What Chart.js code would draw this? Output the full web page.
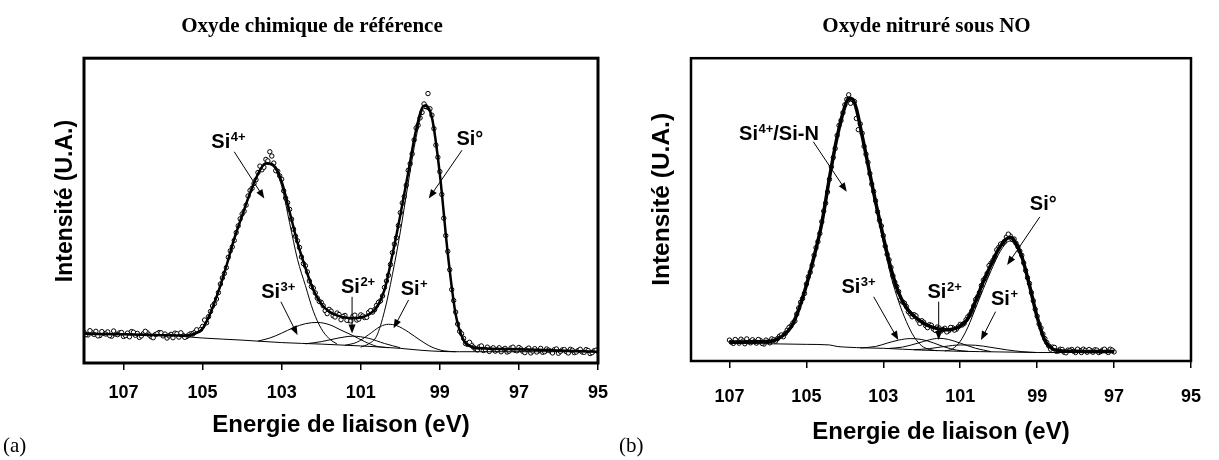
<!DOCTYPE html>
<html lang="fr">
<head>
<meta charset="utf-8">
<title>Si 2p - oxyde chimique / oxyde nitruré</title>
<script src="https://cdn.jsdelivr.net/npm/chart.js@4.4.0/dist/chart.umd.min.js"></script>
<style>
    html, body { margin: 0; padding: 0; background: #ffffff; }
    #wrap { position: relative; width: 1219px; height: 460px; overflow: hidden; }
    #wrap canvas { position: absolute; top: 0; }
    #chartA { left: 0; }
    #chartB { left: 610px; }
    .panel-tag { position: absolute; top: 433px; font: 21px "Liberation Serif", "Times New Roman", serif; color: #000; }
</style>
</head>
<body>
<div id="wrap">
    <canvas id="chartA" width="620" height="460" style="width:620px;height:460px"></canvas>
    <canvas id="chartB" width="609" height="460" style="width:609px;height:460px"></canvas>
    <div class="panel-tag" style="left:3px">(a)</div>
    <div class="panel-tag" style="left:619px">(b)</div>
</div>
<script>
// ---- shared axis ----
const xTicks = [107, 105, 103, 101, 99, 97, 95];

// ---- (a) Oxyde chimique de référence : mesures ----
const aPointE = [
    108.0, 107.9, 107.8, 107.7, 107.6, 107.5, 107.4, 107.3, 107.2, 107.1,
    107.0, 106.9, 106.8, 106.7, 106.6, 106.5, 106.4, 106.3, 106.2, 106.1,
    106.0, 105.9, 105.8, 105.7, 105.6, 105.5, 105.4, 105.3, 105.2, 105.1,
    105.0, 104.9, 104.8, 104.7, 104.6, 104.5, 104.4, 104.3, 104.2, 104.1,
    104.0, 103.9, 103.8, 103.7, 103.6, 103.5, 103.4, 103.3, 103.2, 103.1,
    103.0, 102.9, 102.8, 102.7, 102.6, 102.5, 102.4, 102.3, 102.2, 102.1,
    102.0, 101.9, 101.8, 101.7, 101.6, 101.5, 101.4, 101.3, 101.2, 101.1,
    101.0, 100.9, 100.8, 100.7, 100.6, 100.5, 100.4, 100.3, 100.2, 100.1,
    100.0, 99.9, 99.8, 99.7, 99.6, 99.5, 99.4, 99.3, 99.2, 99.1,
    99.0, 98.9, 98.8, 98.7, 98.6, 98.5, 98.4, 98.3, 98.2, 98.1,
    98.0, 97.9, 97.8, 97.7, 97.6, 97.5, 97.4, 97.3, 97.2, 97.1,
    97.0, 96.9, 96.8, 96.7, 96.6, 96.5, 96.4, 96.3, 96.2, 96.1,
    96.0, 95.9, 95.8, 95.7, 95.6, 95.5, 95.4, 95.3, 95.2, 95.1,
    95.0
];
const aPointI = [
    10.1, 9.2, 9.9, 10.4, 9.0, 9.7, 10.2, 8.8, 9.5, 9.9,
    8.7, 9.8, 10.3, 9.1, 8.4, 9.6, 9.9, 8.6, 9.3, 10.0,
    8.9, 8.2, 9.4, 9.8, 8.5, 9.1, 8.7, 9.6, 10.1, 10.6,
    12.0, 13.2, 16.9, 19.5, 23.1, 27.9, 31.3, 36.8, 40.2, 45.0,
    48.9, 51.8, 56.6, 58.9, 62.5, 63.4, 66.8, 69.3, 65.6, 62.9,
    60.3, 54.1, 50.4, 43.9, 40.1, 34.8, 31.9, 26.9, 24.6, 21.3,
    19.9, 17.2, 17.6, 15.5, 16.4, 14.2, 15.6, 13.9, 15.3, 14.1,
    15.8, 14.9, 16.6, 16.7, 18.9, 20.4, 24.8, 28.8, 36.2, 41.1,
    49.3, 54.6, 63.2, 68.6, 77.1, 80.4, 85.0, 88.4, 81.3, 71.5,
    62.8, 47.5, 36.6, 24.1, 16.7, 10.4, 8.1, 6.1, 5.9, 4.6,
    5.3, 4.1, 5.2, 4.6, 3.9, 5.0, 4.4, 3.6, 4.9, 4.2,
    5.1, 3.8, 4.5, 3.3, 4.7, 4.0, 3.5, 4.6, 3.9, 4.4,
    3.2, 4.3, 3.7, 4.5, 3.4, 4.1, 3.6, 4.4, 3.1, 4.0,
    3.8
];
// second pass of the acquisition (interleaved energies)
const aPoint2E = [
    107.95, 107.85, 107.75, 107.65, 107.55, 107.45, 107.35, 107.25, 107.15, 107.05,
    106.95, 106.85, 106.75, 106.65, 106.55, 106.45, 106.35, 106.25, 106.15, 106.05,
    105.95, 105.85, 105.75, 105.65, 105.55, 105.45, 105.35, 105.25, 105.15, 105.05,
    104.95, 104.85, 104.75, 104.65, 104.55, 104.45, 104.35, 104.25, 104.15, 104.05,
    103.95, 103.85, 103.75, 103.65, 103.55, 103.45, 103.35, 103.25, 103.15, 103.05,
    102.95, 102.85, 102.75, 102.65, 102.55, 102.45, 102.35, 102.25, 102.15, 102.05,
    101.95, 101.85, 101.75, 101.65, 101.55, 101.45, 101.35, 101.25, 101.15, 101.05,
    100.95, 100.85, 100.75, 100.65, 100.55, 100.45, 100.35, 100.25, 100.15, 100.05,
    99.95, 99.85, 99.75, 99.65, 99.55, 99.45, 99.35, 99.25, 99.15, 99.05,
    98.95, 98.85, 98.75, 98.65, 98.55, 98.45, 98.35, 98.25, 98.15, 98.05,
    97.95, 97.85, 97.75, 97.65, 97.55, 97.45, 97.35, 97.25, 97.15, 97.05,
    96.95, 96.85, 96.75, 96.65, 96.55, 96.45, 96.35, 96.25, 96.15, 96.05,
    95.95, 95.85, 95.75, 95.65, 95.55, 95.45, 95.35, 95.25, 95.15, 95.05
];
const aPoint2I = [
    9.3, 10.6, 9.4, 8.9, 10.3, 9.5, 9.0, 10.5, 9.3, 10.0,
    9.0, 8.6, 10.1, 9.7, 8.9, 10.4, 9.2, 8.3, 9.6, 9.9,
    9.5, 8.9, 8.3, 9.6, 9.9, 8.4, 9.2, 9.5, 10.9, 11.0,
    14.1, 15.2, 18.7, 21.0, 25.9, 29.4, 34.7, 38.1, 42.8, 47.3,
    49.8, 54.8, 57.3, 60.1, 64.6, 64.2, 66.3, 67.9, 63.1, 61.4,
    56.5, 52.6, 47.2, 41.6, 37.9, 32.6, 29.9, 25.1, 23.0, 20.2,
    18.8, 16.2, 17.0, 15.1, 15.9, 15.3, 14.0, 13.8, 15.7, 14.4,
    15.4, 15.0, 17.2, 17.5, 19.9, 22.0, 26.9, 32.3, 39.0, 45.1,
    52.5, 58.3, 65.4, 73.2, 78.0, 82.2, 84.1, 83.4, 76.9, 67.5,
    55.3, 41.8, 30.6, 20.5, 12.8, 9.6, 6.4, 6.8, 5.2, 4.3,
    5.6, 4.4, 3.8, 5.0, 4.3, 3.7, 4.8, 3.9, 5.2, 4.0,
    4.6, 3.4, 4.9, 3.9, 3.6, 4.8, 3.7, 4.2, 3.3, 4.6,
    3.8, 4.4, 3.3, 4.2, 3.6, 4.5, 3.5, 4.1, 3.4, 4.2
];

// ---- (a) décomposition ----
const aFitE = [108, 107, 106, 105.4, 105.2, 105.0, 104.8, 104.6, 104.4, 104.2, 104.0, 103.8, 103.6, 103.4, 103.2, 103.0,
    102.8, 102.6, 102.4, 102.2, 102.0, 101.8, 101.6, 101.4, 101.2, 101.0, 100.8, 100.6, 100.4, 100.2, 100.0,
    99.8, 99.6, 99.4, 99.2, 99.0, 98.8, 98.6, 98.4, 98.2, 98.0, 97, 96, 95];
const aFitI = [9.6, 9.4, 9.1, 9.0, 9.6, 11.3, 16.5, 23.5, 31.8, 40.8, 48.4, 55.8, 62.0, 65.5, 64.8, 59.5,
    49.6, 39.5, 31.2, 24.0, 19.4, 16.9, 15.6, 14.9, 14.7, 14.9, 15.9, 18.2, 24.0, 35.5, 48.5,
    62.5, 76.5, 84.4, 80.5, 62.0, 36.0, 16.0, 7.5, 5.4, 4.9, 4.5, 4.1, 3.7];

const aBgE = [105.6, 105.0, 104.0, 103.0, 102.0, 101.0, 100.0, 99.5, 99.0, 98.5, 95.0];
const aBgI = [8.8, 8.2, 7.5, 6.7, 6.2, 5.6, 4.8, 4.2, 3.8, 3.7, 3.7];

const aSi4E = [105.4, 105.0, 104.6, 104.2, 103.8, 103.6, 103.4, 103.2, 103.0, 102.8, 102.6, 102.4, 102.2, 102.0, 101.8, 101.6];
const aSi4I = [9.0, 11.2, 23.2, 40.3, 55.3, 61.6, 65.2, 64.3, 58.0, 46.0, 34.0, 25.4, 17.0, 11.3, 8.0, 6.2];

const aSi3E = [103.6, 103.3, 103.0, 102.7, 102.4, 102.1, 101.8, 101.5, 101.2, 100.9, 100.6, 100.3];
const aSi3I = [7.2, 8.2, 9.8, 11.6, 12.9, 13.3, 12.6, 10.8, 9.0, 7.0, 5.5, 5.0];

const aSi2E = [102.4, 102.0, 101.6, 101.2, 100.8, 100.4, 100.0];
const aSi2I = [6.3, 7.0, 8.1, 8.8, 8.1, 6.4, 5.0];

const aSi1E = [101.4, 101.1, 100.8, 100.5, 100.3, 100.1, 99.8, 99.5, 99.2, 98.9, 98.6];
const aSi1I = [5.8, 6.8, 9.3, 12.0, 12.7, 12.3, 10.2, 7.5, 5.2, 4.0, 3.7];

const aSi0E = [101.0, 100.8, 100.6, 100.4, 100.2, 100.0, 99.8, 99.6, 99.4, 99.2, 99.0, 98.8, 98.6, 98.4, 98.2, 98.0];
const aSi0I = [5.2, 6.3, 8.8, 17.0, 29.0, 43.0, 59.0, 74.0, 83.5, 80.3, 61.8, 35.8, 15.8, 7.3, 5.0, 4.5];

// ---- (b) Oxyde nitruré sous NO : mesures ----
const bPointE = [
    107.0, 106.9, 106.8, 106.7, 106.6, 106.5, 106.4, 106.3, 106.2, 106.1,
    106.0, 105.9, 105.8, 105.7, 105.6, 105.5, 105.4, 105.3, 105.2, 105.1,
    105.0, 104.9, 104.8, 104.7, 104.6, 104.5, 104.4, 104.3, 104.2, 104.1,
    104.0, 103.9, 103.8, 103.7, 103.6, 103.5, 103.4, 103.3, 103.2, 103.1,
    103.0, 102.9, 102.8, 102.7, 102.6, 102.5, 102.4, 102.3, 102.2, 102.1,
    102.0, 101.9, 101.8, 101.7, 101.6, 101.5, 101.4, 101.3, 101.2, 101.1,
    101.0, 100.9, 100.8, 100.7, 100.6, 100.5, 100.4, 100.3, 100.2, 100.1,
    100.0, 99.9, 99.8, 99.7, 99.6, 99.5, 99.4, 99.3, 99.2, 99.1,
    99.0, 98.9, 98.8, 98.7, 98.6, 98.5, 98.4, 98.3, 98.2, 98.1,
    98.0, 97.9, 97.8, 97.7, 97.6, 97.5, 97.4, 97.3, 97.2, 97.1,
    97.0
];
const bPointI = [
    6.9, 5.8, 6.6, 7.2, 5.7, 6.4, 7.0, 5.9, 6.8, 5.6,
    6.5, 7.3, 6.6, 8.2, 8.0, 10.2, 11.6, 13.2, 17.5, 20.6,
    25.4, 29.3, 34.9, 39.4, 46.0, 52.1, 60.0, 67.2, 74.5, 79.4,
    84.6, 87.9, 86.0, 80.1, 78.3, 70.9, 65.6, 58.4, 52.9, 46.5,
    41.4, 35.2, 30.9, 26.0, 22.9, 19.5, 18.0, 15.6, 15.3, 13.5,
    13.3, 11.7, 12.0, 10.6, 11.2, 9.9, 10.8, 10.0, 11.0, 10.5,
    12.1, 12.4, 14.6, 16.5, 20.3, 22.6, 26.7, 28.9, 32.3, 34.4,
    37.5, 38.8, 40.9, 41.3, 40.3, 37.7, 34.9, 29.9, 25.6, 19.9,
    14.8, 10.9, 7.4, 5.0, 4.6, 3.2, 3.9, 2.9, 3.6, 3.8,
    2.8, 3.5, 3.9, 2.9, 3.4, 3.7, 2.8, 3.6, 3.3, 3.9,
    3.0
];
const bPoint2E = [
    106.95, 106.85, 106.75, 106.65, 106.55, 106.45, 106.35, 106.25, 106.15, 106.05,
    105.95, 105.85, 105.75, 105.65, 105.55, 105.45, 105.35, 105.25, 105.15, 105.05,
    104.95, 104.85, 104.75, 104.65, 104.55, 104.45, 104.35, 104.25, 104.15, 104.05,
    103.95, 103.85, 103.75, 103.65, 103.55, 103.45, 103.35, 103.25, 103.15, 103.05,
    102.95, 102.85, 102.75, 102.65, 102.55, 102.45, 102.35, 102.25, 102.15, 102.05,
    101.95, 101.85, 101.75, 101.65, 101.55, 101.45, 101.35, 101.25, 101.15, 101.05,
    100.95, 100.85, 100.75, 100.65, 100.55, 100.45, 100.35, 100.25, 100.15, 100.05,
    99.95, 99.85, 99.75, 99.65, 99.55, 99.45, 99.35, 99.25, 99.15, 99.05,
    98.95, 98.85, 98.75, 98.65, 98.55, 98.45, 98.35, 98.25, 98.15, 98.05,
    97.95, 97.85, 97.75, 97.65, 97.55, 97.45, 97.35, 97.25, 97.15, 97.05
];
const bPoint2I = [
    6.2, 7.1, 5.9, 6.6, 7.3, 6.0, 6.4, 7.1, 5.8, 6.9,
    6.0, 7.0, 7.4, 8.6, 9.1, 11.1, 12.6, 15.5, 19.4, 22.3,
    27.8, 31.6, 37.4, 42.1, 49.5, 55.8, 64.1, 70.2, 77.8, 82.0,
    86.4, 85.1, 85.7, 76.4, 75.2, 68.3, 61.9, 56.0, 49.3, 44.6,
    37.9, 33.4, 28.1, 24.6, 20.2, 19.1, 16.3, 14.6, 14.9, 12.4,
    12.8, 11.0, 11.8, 10.1, 10.9, 10.4, 9.6, 11.1, 10.2, 11.3,
    11.9, 13.6, 15.3, 18.2, 21.1, 24.9, 27.4, 31.5, 33.2, 36.7,
    38.6, 39.5, 41.9, 40.2, 38.9, 36.3, 32.4, 27.5, 22.6, 17.1,
    12.2, 8.9, 6.1, 3.9, 4.5, 3.3, 3.8, 2.7, 3.5, 3.2,
    3.9, 2.8, 3.5, 3.8, 2.9, 3.6, 3.1, 3.9, 2.8, 3.6
];

// ---- (b) décomposition ----
const bFitE = [107.0, 106.0, 105.8, 105.6, 105.4, 105.2, 105.0, 104.8, 104.6, 104.4, 104.2, 104.0, 103.9, 103.8, 103.7,
    103.6, 103.4, 103.2, 103.0, 102.8, 102.6, 102.4, 102.2, 102.0, 101.8, 101.6, 101.4, 101.2, 101.0, 100.8,
    100.6, 100.4, 100.2, 100.0, 99.8, 99.7, 99.6, 99.4, 99.2, 99.0, 98.8, 98.6, 98.4, 98.0, 97.0];
const bFitI = [6.3, 6.4, 7.0, 8.5, 11.2, 17.0, 25.0, 34.5, 45.4, 60.5, 74.0, 84.0, 86.8, 86.5, 83.3,
    77.5, 65.0, 52.5, 41.0, 30.5, 22.5, 17.6, 14.8, 12.9, 11.5, 10.7, 10.3, 10.5, 11.5, 14.0,
    19.8, 26.2, 31.8, 37.0, 40.3, 40.8, 39.8, 34.5, 25.0, 14.5, 6.8, 4.0, 3.4, 3.2, 3.1];

const bBgE = [107.0, 106.0, 105.0, 104.4, 104.2, 104.0, 103.4, 103.0, 102.5, 102.0, 101.5, 101.0, 100.5, 100.0, 99.5, 99.0, 97.0];
const bBgI = [5.8, 5.7, 5.5, 5.3, 4.8, 4.6, 4.3, 4.2, 3.9, 3.6, 3.4, 3.2, 3.1, 3.0, 2.9, 2.8, 2.8];

const bSi4E = [106.0, 105.6, 105.2, 104.8, 104.4, 104.0, 103.8, 103.6, 103.4, 103.2, 103.0, 102.8, 102.6, 102.4, 102.2, 102.0, 101.8, 101.6];
const bSi4I = [5.9, 8.3, 16.8, 34.3, 60.3, 83.8, 86.2, 77.0, 64.2, 51.2, 39.2, 28.0, 19.6, 13.0, 8.0, 5.0, 3.8, 3.4];

const bSi3E = [103.6, 103.2, 102.9, 102.6, 102.3, 102.0, 101.7, 101.4, 101.1, 100.8];
const bSi3I = [4.3, 4.8, 5.9, 6.9, 7.4, 7.1, 6.0, 4.6, 3.6, 3.2];

const bSi2E = [102.9, 102.5, 102.1, 101.8, 101.55, 101.3, 101.0, 100.6, 100.2];
const bSi2I = [4.1, 4.6, 5.9, 7.0, 7.5, 7.1, 5.9, 4.2, 3.1];

const bSi1E = [102.2, 101.8, 101.4, 101.0, 100.6, 100.2, 99.8, 99.4, 99.0];
const bSi1I = [3.7, 4.1, 4.8, 5.3, 5.2, 4.5, 3.7, 3.1, 2.8];

const bSi0E = [101.4, 101.2, 101.0, 100.8, 100.6, 100.4, 100.2, 100.0, 99.8, 99.7, 99.6, 99.4, 99.2, 99.0, 98.8, 98.6, 98.4, 98.0];
const bSi0I = [3.3, 4.0, 6.5, 11.2, 17.5, 23.8, 29.8, 35.3, 39.0, 39.6, 38.8, 33.6, 24.8, 14.6, 7.2, 4.1, 3.2, 2.9];

// ---- annotations (position du texte + flèche, en eV / intensité) ----
const aNotes = [
    { text: 'Si', sup: '4+', rest: '', at: [104.78, 70.5], from: [104.20, 69.3], to: [103.44, 54.0] },
    { text: 'Si°', sup: '', rest: '', at: [98.58, 71.5], from: [98.44, 69.8], to: [99.28, 54.0] },
    { text: 'Si', sup: '3+', rest: '', at: [103.52, 21.3], from: [103.02, 20.1], to: [102.60, 9.2] },
    { text: 'Si', sup: '2+', rest: '', at: [101.50, 23.0], from: [101.22, 21.7], to: [101.22, 9.7] },
    { text: 'Si', sup: '+', rest: '', at: [99.99, 22.3], from: [99.79, 20.7], to: [100.17, 11.4] }
];
const bNotes = [
    { text: 'Si', sup: '4+', rest: '/Si-N', at: [106.75, 72.9], from: [104.82, 72.4], to: [103.95, 55.9] },
    { text: 'Si°', sup: '', rest: '', at: [99.19, 49.8], from: [98.93, 47.6], to: [99.78, 31.7] },
    { text: 'Si', sup: '3+', rest: '', at: [104.09, 22.4], from: [103.25, 21.2], to: [102.61, 6.9] },
    { text: 'Si', sup: '2+', rest: '', at: [101.85, 20.8], from: [101.56, 19.6], to: [101.56, 6.9] },
    { text: 'Si', sup: '+', rest: '', at: [100.20, 18.5], from: [100.08, 16.3], to: [100.46, 6.9] }
];

const SANS = '"Liberation Sans", Arial, Helvetica, sans-serif';
const SERIF = '"Liberation Serif", "Times New Roman", serif';

document.addEventListener('DOMContentLoaded', () => {
    initSpectrumChart('chartA', {
        title: 'Oxyde chimique de référence',
        points: [aPointE.concat(aPoint2E), aPointI.concat(aPoint2I)],
        fit: [aFitE, aFitI],
        parts: [[aBgE, aBgI], [aSi4E, aSi4I], [aSi3E, aSi3I], [aSi2E, aSi2I], [aSi1E, aSi1I], [aSi0E, aSi0I]],
        notes: aNotes,
        pad: { left: 24, right: 20 },
        yWidth: 60, yTitlePad: 28, yTitleSize: 23,
        xHeight: 97, tickPad: 12, xTitlePad: 20,
        frame: 3, fitWidth: 2.5
    });
    initSpectrumChart('chartB', {
        title: 'Oxyde nitruré sous NO',
        points: [bPointE.concat(bPoint2E), bPointI.concat(bPoint2I)],
        fit: [bFitE, bFitI],
        parts: [[bBgE, bBgI], [bSi4E, bSi4I], [bSi3E, bSi3I], [bSi2E, bSi2I], [bSi1E, bSi1I], [bSi0E, bSi0I]],
        notes: bNotes,
        pad: { left: 38, right: 14 },
        yWidth: 43, yTitlePad: 0, yTitleSize: 24.5,
        xHeight: 99, tickPad: 18, xTitlePad: 13,
        frame: 2.5, fitWidth: 3.5
    });
});

function toXY(xs, ys) {
    return xs.map((x, i) => ({ x: x, y: ys[i] }));
}

function drawArrow(ctx, x1, y1, x2, y2) {
    const ang = Math.atan2(y2 - y1, x2 - x1);
    const len = 9, half = 3.5;
    ctx.beginPath();
    ctx.moveTo(x1, y1);
    ctx.lineTo(x2 - Math.cos(ang) * len * 0.8, y2 - Math.sin(ang) * len * 0.8);
    ctx.lineWidth = 1;
    ctx.stroke();
    ctx.beginPath();
    ctx.moveTo(x2, y2);
    ctx.lineTo(x2 - Math.cos(ang) * len - Math.sin(ang) * half, y2 - Math.sin(ang) * len + Math.cos(ang) * half);
    ctx.lineTo(x2 - Math.cos(ang) * len + Math.sin(ang) * half, y2 - Math.sin(ang) * len - Math.cos(ang) * half);
    ctx.closePath();
    ctx.fill();
}

/**
 * Frame + peak labels with arrows, positioned through the chart scales
 */
const peakLabels = {
    id: 'peakLabels',
    afterDatasetsDraw(chart, args, opts) {
        const { ctx, chartArea: area, scales: { x, y } } = chart;
        ctx.save();
        ctx.strokeStyle = '#000';
        ctx.fillStyle = '#000';
        ctx.lineWidth = opts.frame;
        ctx.strokeRect(area.left, area.top, area.right - area.left, area.bottom - area.top);

        ctx.textBaseline = 'alphabetic';
        ctx.textAlign = 'left';
        (opts.notes || []).forEach(n => {
            const px = x.getPixelForValue(n.at[0]);
            const py = y.getPixelForValue(n.at[1]);
            ctx.font = 'bold 20px ' + SANS;
            ctx.fillText(n.text, px, py);
            let cx = px + ctx.measureText(n.text).width;
            if (n.sup) {
                ctx.font = 'bold 13px ' + SANS;
                ctx.fillText(n.sup, cx + 0.5, py - 7);
                cx += ctx.measureText(n.sup).width + 0.5;
            }
            if (n.rest) {
                ctx.font = 'bold 20px ' + SANS;
                ctx.fillText(n.rest, cx, py);
            }
            drawArrow(ctx,
                x.getPixelForValue(n.from[0]), y.getPixelForValue(n.from[1]),
                x.getPixelForValue(n.to[0]), y.getPixelForValue(n.to[1]));
        });
        ctx.restore();
    }
};

function initSpectrumChart(canvasId, cfg) {
    const ctx = document.getElementById(canvasId);
    if (!ctx) return;

    const datasets = [{
        label: 'mesure',
        data: toXY(cfg.points[0], cfg.points[1]),
        showLine: false,
        pointStyle: 'circle',
        pointRadius: 2.2,
        pointBorderWidth: 1,
        pointBorderColor: '#000',
        pointBackgroundColor: '#fff',
        order: 5
    }, {
        label: 'enveloppe',
        data: toXY(cfg.fit[0], cfg.fit[1]),
        showLine: true,
        borderColor: '#000',
        borderWidth: cfg.fitWidth,
        pointRadius: 0,
        cubicInterpolationMode: 'monotone',
        order: 1
    }];

    // thin component curves (background first)
    cfg.parts.forEach((p, i) => {
        datasets.push({
            label: 'comp' + i,
            data: toXY(p[0], p[1]),
            showLine: true,
            borderColor: '#000',
            borderWidth: 1,
            pointRadius: 0,
            cubicInterpolationMode: 'monotone',
            order: 2
        });
    });

    new Chart(ctx, {
        type: 'scatter',
        data: { datasets: datasets },
        plugins: [peakLabels],
        options: {
            responsive: false,
            animation: false,
            events: [],
            layout: { padding: { left: cfg.pad.left, right: cfg.pad.right, top: 0, bottom: 0 } },
            plugins: {
                legend: { display: false },
                tooltip: { enabled: false },
                title: {
                    display: true,
                    text: cfg.title,
                    color: '#000',
                    font: { family: SERIF, size: 21, weight: 'bold' },
                    padding: { top: 14, bottom: 19 }
                },
                peakLabels: { frame: cfg.frame, notes: cfg.notes }
            },
            scales: {
                x: {
                    type: 'linear',
                    position: 'bottom',
                    reverse: true,
                    min: 95,
                    max: 108,
                    afterBuildTicks: (axis) => { axis.ticks = xTicks.map(v => ({ value: v })); },
                    afterFit: (axis) => { axis.height = cfg.xHeight; },
                    ticks: {
                        color: '#000',
                        padding: cfg.tickPad,
                        maxRotation: 0,
                        font: { family: SANS, size: 18, weight: 'bold' }
                    },
                    grid: { display: true, drawOnChartArea: false, drawTicks: true, tickLength: 7, color: '#000', lineWidth: 1.5 },
                    border: { display: false },
                    title: {
                        display: true,
                        text: 'Energie de liaison (eV)',
                        color: '#000',
                        font: { family: SANS, size: 24, weight: 'bold' },
                        padding: { top: 0, bottom: cfg.xTitlePad }
                    }
                },
                y: {
                    type: 'linear',
                    min: 0,
                    max: 100,
                    afterFit: (axis) => { axis.width = cfg.yWidth; },
                    ticks: { display: false },
                    grid: { display: false },
                    border: { display: false },
                    title: {
                        display: true,
                        text: '   Intensité (U.A.)',
                        color: '#000',
                        font: { family: SANS, size: cfg.yTitleSize, weight: 'bold' },
                        padding: { top: cfg.yTitlePad, bottom: 0 }
                    }
                }
            }
        }
    });
}
</script>
</body>
</html>
